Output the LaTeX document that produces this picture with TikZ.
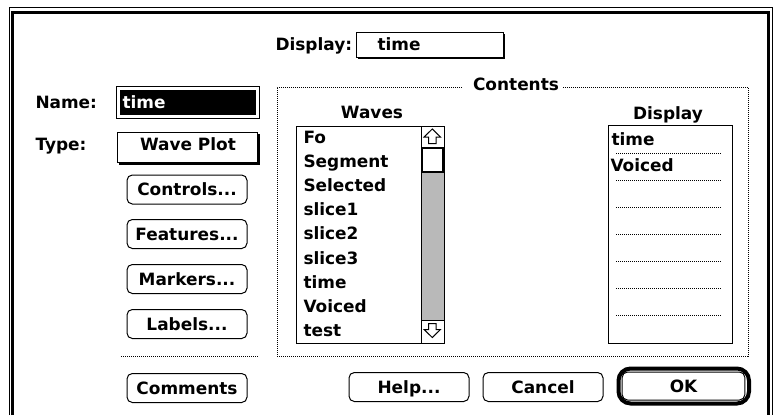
\documentclass[tikz,border=0pt]{standalone}
\usepackage{fontspec}
\setmainfont{DejaVu Sans}

\begin{document}
\begin{tikzpicture}[x=0.75pt,y=0.75pt,yscale=-1,xscale=1,line width=0.75pt,
  every node/.style={font=\bfseries\fontsize{12.7}{14}\selectfont,inner sep=0pt},
  btn/.style={draw,rounded corners=4pt,minimum width=90pt,minimum height=21.75pt,text height=9.2pt,text depth=0pt},
  dotline/.style={dash pattern=on 0.75pt off 0.75pt},
  item/.style={anchor=base west}]
\useasboundingbox (0,0) rectangle (778,415);

% dialog frame
\draw (9,415) -- (9,7) -- (772,7) -- (772,415);
\draw [line width=2.25pt] (12.5,415) -- (12.5,12.5) -- (768,12.5) -- (768,415);

% display field
\node [item] (dsplbl) at (275,50) {Display:};
\fill (358,34) rectangle (505,59);
\draw [fill=white] (356,32) rectangle (503,57);
\node [item] (dspval) at (377,50) {time};

% name and type
\node [item] (namelbl) at (35,108) {Name:};
\draw (116,86) rectangle (259,118);
\fill (120,90) rectangle (256,115);
\node [item,text=white] (nameval) at (122,108) {time};
\node [item] (typelbl) at (35,150) {Type:};
\fill (119,134) rectangle (259.5,164.5);
\draw [fill=white] (117,132) rectangle (257,162);
\node [anchor=base] (typeval) at (188,150) {Wave Plot};

% left buttons
\node [btn] (controls) at (187,189.5) {Controls...};
\node [btn] (features) at (187,234) {Features...};
\node [btn] (markers) at (187,279) {Markers...};
\node [btn] (labels) at (187,324) {Labels...};
\draw [dotline] (121,356) -- (258,356);
\node [btn] (comments) at (187,388) {Comments};

% contents group
\draw [dotline] (462,87) -- (277,87) -- (277,356) -- (748,356) -- (748,87) -- (563,87);
\node [anchor=base] (contents) at (516,90) {Contents};
\node [anchor=base] (waveslbl) at (372,118) {Waves};
\node [anchor=base] (displbl) at (668,119) {Display};

% waves list
\draw (296,126) rectangle (444,343);
\fill [gray!55] (421,172) rectangle (444,320);
\draw (421,126) -- (421,343);
\draw (421,147) -- (444,147) (421,320) -- (444,320);
\draw [line width=1.5pt,fill=white] (422,148) rectangle (443,172);
\draw (432.3,129) -- (440.5,137) -- (436,137) -- (436,143.5) -- (428.5,143.5) -- (428.5,137) -- (424,137) -- cycle;
\draw (432.3,337.5) -- (440.5,329.5) -- (436,329.5) -- (436,323.5) -- (428.5,323.5) -- (428.5,329.5) -- (424,329.5) -- cycle;
\foreach \name [count=\i from 0] in {Fo,Segment,Selected,slice1,slice2,slice3,time,Voiced,test}
  \node [item] (wave\i) at (303,143+24.2*\i) {\name};

% display list
\draw (608,125) rectangle (732,343);
\foreach \i in {0,...,6}
  \draw [dotline] (616,153+27*\i) -- (722,153+27*\i);
\node [item] (disp0) at (611,145) {time};
\node [item] (disp1) at (610,171.7) {Voiced};

% bottom buttons
\node [btn] (help) at (409,387) {Help...};
\node [btn] (cancel) at (543,387) {Cancel};
\draw [line width=3pt,rounded corners=9pt] (618.5,368.5) rectangle (749,403.5);
\node [btn,minimum width=92pt,minimum height=21pt] (ok) at (683.5,386) {OK};
\end{tikzpicture}
\end{document}
